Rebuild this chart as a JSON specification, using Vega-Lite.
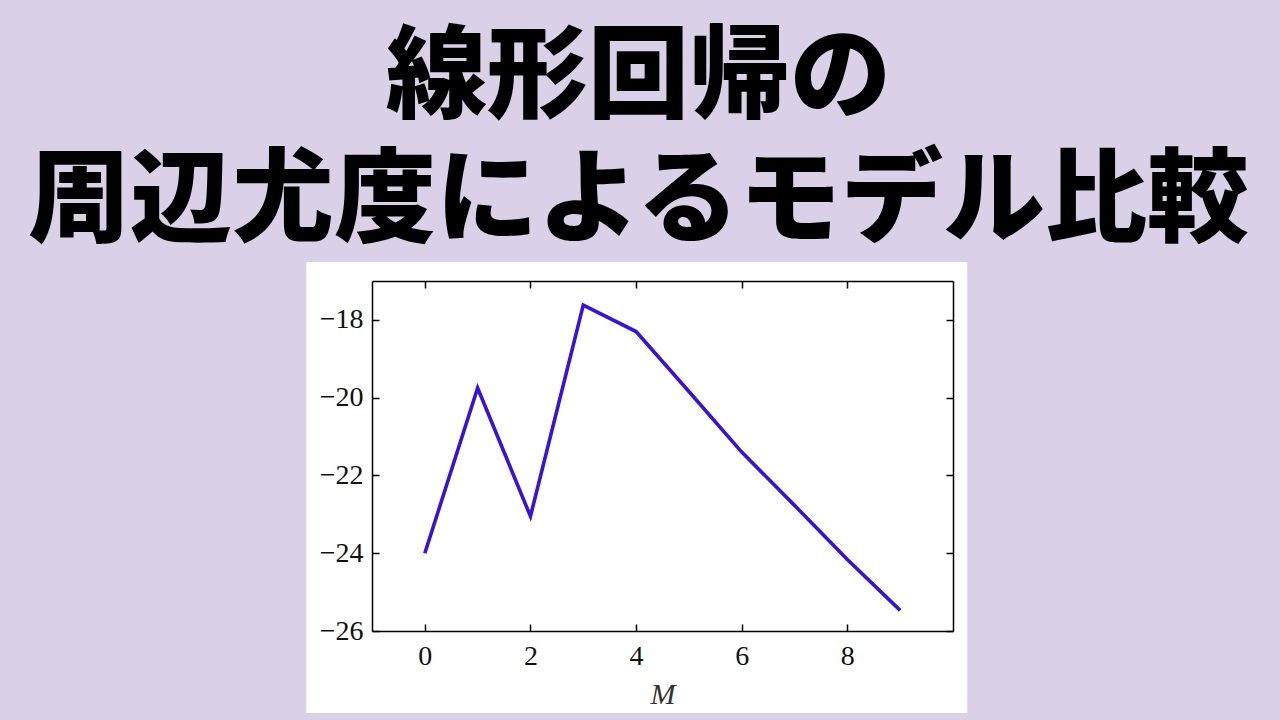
{
  "$schema": "https://vega.github.io/schema/vega-lite/v6.json",
  "autosize": "none",
  "width": 581,
  "height": 350,
  "padding": {"left": 372, "top": 281, "right": 327, "bottom": 89},
  "background": "#DAD0E8",
  "title": {
    "text": "線形回帰の",
    "subtitle": "周辺尤度によるモデル比較",
    "anchor": "middle",
    "frame": "group",
    "dx": -24,
    "font": "Noto Sans CJK JP",
    "fontSize": 101,
    "fontWeight": 900,
    "color": "#000000",
    "subtitleFont": "Noto Sans CJK JP",
    "subtitleFontSize": 102,
    "subtitleFontWeight": 900,
    "subtitleColor": "#000000",
    "subtitlePadding": 22,
    "offset": 7
  },
  "config": {
    "view": {"stroke": null},
    "axis": {
      "grid": false,
      "domainColor": "#000000",
      "domainWidth": 1.5,
      "tickColor": "#000000",
      "tickWidth": 1.5,
      "tickSize": -7,
      "labelFont": "Liberation Serif",
      "labelFontSize": 28,
      "labelColor": "#111111",
      "titleFont": "Liberation Serif"
    }
  },
  "data": {
    "values": [
      {"M": 0, "value": -24.0},
      {"M": 1, "value": -19.75},
      {"M": 2, "value": -23.05},
      {"M": 3, "value": -17.62},
      {"M": 4, "value": -18.30},
      {"M": 5, "value": -19.84},
      {"M": 6, "value": -21.40},
      {"M": 7, "value": -22.77},
      {"M": 8, "value": -24.16},
      {"M": 9, "value": -25.47}
    ]
  },
  "resolve": {"scale": {"x": "independent", "y": "independent"}, "axis": {"x": "independent", "y": "independent"}},
  "layer": [
    {
      "data": {"values": [{}]},
      "mark": {"type": "rect", "color": "#FFFFFF"},
      "encoding": {
        "x": {"datum": -2.243, "type": "quantitative", "scale": {"domain": [-1, 10], "nice": false, "zero": false},
              "axis": {"orient": "top", "zindex": 1, "values": [0, 2, 4, 6, 8], "labels": false, "title": null}},
        "x2": {"datum": 10.27},
        "y": {"datum": -28.11, "type": "quantitative", "scale": {"domain": [-26, -17], "nice": false, "zero": false},
              "axis": {"orient": "right", "zindex": 1, "values": [-18, -20, -22, -24, -26], "labels": false, "title": null}},
        "y2": {"datum": -16.51}
      }
    },
    {
      "mark": {"type": "line", "color": "#3A12D6", "strokeWidth": 3.6},
      "encoding": {
        "x": {"field": "M", "type": "quantitative", "scale": {"domain": [-1, 10], "nice": false, "zero": false},
              "axis": {"orient": "bottom", "zindex": 1, "values": [0, 2, 4, 6, 8], "title": "M", "titleFontStyle": "italic", "titleFontWeight": "normal", "titleFontSize": 30, "titleColor": "#333333", "labelBaseline": "alphabetic", "labelPadding": 40, "titlePadding": 9}},
        "y": {"field": "value", "type": "quantitative", "scale": {"domain": [-26, -17], "nice": false, "zero": false},
              "axis": {"orient": "left", "zindex": 1, "values": [-18, -20, -22, -24, -26], "title": null, "labelPadding": 16}}
      }
    }
  ]
}
